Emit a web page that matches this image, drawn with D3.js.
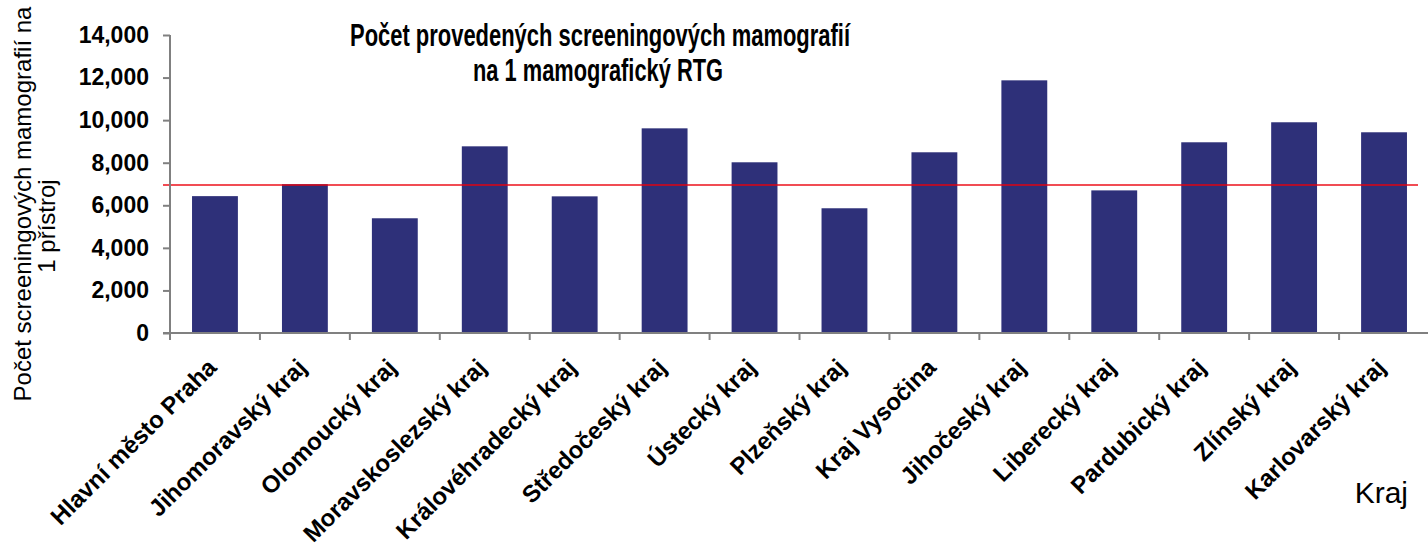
<!DOCTYPE html>
<html>
<head>
<meta charset="utf-8">
<script src="https://cdn.jsdelivr.net/npm/d3@7"></script>
<style>
  html, body { margin: 0; padding: 0; background: #fff; }
  svg { display: block; font-family: "Liberation Sans", Arial, sans-serif; }
</style>
</head>
<body>
<svg id="chart" width="1428" height="548"></svg>
<script>
const categories = ["Hlavní město Praha", "Jihomoravský kraj", "Olomoucký kraj", "Moravskoslezský kraj",
  "Královéhradecký kraj", "Středočeský kraj", "Ústecký kraj", "Plzeňský kraj", "Kraj Vysočina",
  "Jihočeský kraj", "Liberecký kraj", "Pardubický kraj", "Zlínský kraj", "Karlovarský kraj"];
const values = [6430, 6990, 5390, 8770, 6420, 9615, 8020, 5860, 8490, 11870, 6700, 8960, 9900, 9430];
const averageValue = 6950;
const yTicks = [0, 2000, 4000, 6000, 8000, 10000, 12000, 14000];
const titleLines = ["Počet provedených screeningových mamografií", "na 1 mamografický RTG"];
const yTitleLines = ["Počet screeningových mamografií na", "1 přístroj"];
const xTitle = "Kraj";

const svg = d3.select("#chart");
const x = d3.scaleBand().domain(categories).range([170, 1429]).paddingInner(0.49).paddingOuter(0.245);
const y = d3.scaleLinear().domain([0, 14000]).range([333, 35]);
const axisColor = "#808080";

// Bars
svg.append("g").selectAll("rect").data(values).join("rect")
  .attr("x", (d, i) => x(categories[i]))
  .attr("y", d => y(d))
  .attr("width", x.bandwidth())
  .attr("height", d => y(0) - y(d))
  .attr("fill", "#2E3079");

// Average line
svg.append("line")
  .attr("x1", x.range()[0] - 7).attr("x2", x.range()[1] - 11)
  .attr("y1", y(averageValue)).attr("y2", y(averageValue))
  .attr("stroke", "rgb(235,0,12)").attr("stroke-opacity", 0.7).attr("stroke-width", 2);

// Y axis
const yAxis = d3.axisLeft(y).tickValues(yTicks).tickSize(7).tickPadding(14)
  .tickFormat(d3.format(","));
const gy = svg.append("g").attr("transform", "translate(170,0)").call(yAxis);
gy.select(".domain").attr("stroke", axisColor).attr("stroke-width", 2).attr("d", `M0,${y(14000)}V${y(0)}`);
gy.selectAll(".tick line").attr("stroke", axisColor).attr("stroke-width", 2);
gy.selectAll(".tick text").attr("fill", "#000").style("font-size", "23px").style("font-weight", "bold")
  .attr("font-family", "Liberation Sans, Arial, sans-serif");

// X axis
const step = x.step();
const gx = svg.append("g").attr("transform", `translate(0,${y(0)})`);
gx.append("line").attr("x1", 163).attr("x2", 1428).attr("y1", 0).attr("y2", 0)
  .attr("stroke", axisColor).attr("stroke-width", 2);
gx.selectAll("line.tk").data(categories).join("line").attr("class", "tk")
  .attr("x1", d => x(d) - step * x.paddingInner() / 2)
  .attr("x2", d => x(d) - step * x.paddingInner() / 2)
  .attr("y1", 0).attr("y2", 7)
  .attr("stroke", axisColor).attr("stroke-width", 2);

gx.selectAll("text").data(categories).join("text")
  .attr("transform", d => `translate(${x(d) + x.bandwidth() / 2 + 3},${36}) rotate(-45)`)
  .attr("text-anchor", "end")
  .style("font-size", "24px").style("font-weight", "bold")
  .text(d => d);

// Title
svg.append("text").attr("x", 600).attr("y", 46).attr("text-anchor", "middle")
  .style("font-size", "31px").style("font-weight", "bold")
  .attr("textLength", 500).attr("lengthAdjust", "spacingAndGlyphs")
  .text(titleLines[0]);
svg.append("text").attr("x", 598).attr("y", 81).attr("text-anchor", "middle")
  .style("font-size", "31px").style("font-weight", "bold")
  .attr("textLength", 250).attr("lengthAdjust", "spacingAndGlyphs")
  .text(titleLines[1]);

// Y title
svg.append("text").attr("transform", "translate(31,204) rotate(-90)").attr("text-anchor", "middle")
  .style("font-size", "24px").text(yTitleLines[0]);
svg.append("text").attr("transform", "translate(55,226) rotate(-90)").attr("text-anchor", "middle")
  .style("font-size", "24px").text(yTitleLines[1]);

// X title
svg.append("text").attr("x", 1408).attr("y", 503).attr("text-anchor", "end")
  .style("font-size", "30px").text(xTitle);
</script>
</body>
</html>
